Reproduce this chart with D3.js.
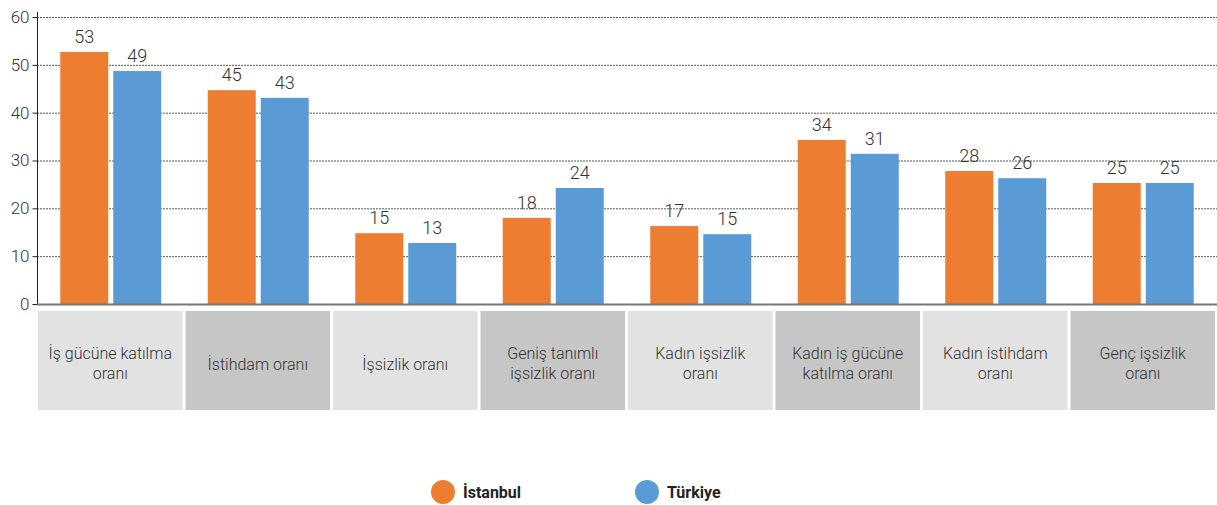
<!DOCTYPE html>
<html><head><meta charset="utf-8">
<script src="https://cdn.jsdelivr.net/npm/d3@7"></script>
<style>body{margin:0;background:#fff}svg{display:block}text{font-family:Roboto,"DejaVu Sans",sans-serif}</style>
</head><body><svg id="c" width="1217" height="505"></svg>
<script>
const categories = [["İş gücüne katılma","oranı"],["İstihdam oranı"],["İşsizlik oranı"],["Geniş tanımlı","işsizlik oranı"],["Kadın işsizlik","oranı"],["Kadın iş gücüne","katılma oranı"],["Kadın istihdam","oranı"],["Genç işsizlik","oranı"]];
const series = ["İstanbul","Türkiye"];
const istanbul = [52.7,44.7,14.8,18.0,16.3,34.3,27.8,25.3];
const turkiye = [48.7,43.1,12.75,24.25,14.6,31.4,26.3,25.3];
const istanbulLabels = [53,45,15,18,17,34,28,25];
const turkiyeLabels = [49,43,13,24,15,31,26,25];
const yTicks = [0,10,20,30,40,50,60];
const colors = ["#ED7D31","#5B9BD5"];

const svg = d3.select("#c");
const pLeft = 37, pRight = 1217, pTop = 17, pBottom = 304;
const x = d3.scaleBand().domain(d3.range(categories.length)).range([pLeft,pRight]);
const y = d3.scaleLinear().domain([0,60]).range([pBottom,pTop]);
const barW = 48, gap = 5;
const pad = (x.bandwidth() - 2*barW - gap)/2;

// gridlines
svg.append("g").selectAll("line").data(yTicks.filter(d=>d>0)).join("line")
  .attr("x1",pLeft).attr("x2",pRight).attr("y1",d=>y(d)+0.5).attr("y2",d=>y(d)+0.5)
  .attr("stroke","#555").attr("stroke-width",1).attr("stroke-dasharray","2,1");

// y axis
const yAxis = d3.axisLeft(y).tickValues(yTicks).tickSize(5).tickPadding(3);
const ga = svg.append("g").attr("transform",`translate(${pLeft+0.5},0)`).call(yAxis);
ga.select(".domain").attr("d",`M0,12V${pBottom}`).attr("stroke","#222");
ga.selectAll(".tick line").attr("stroke","#222");
ga.selectAll(".tick text").attr("font-size",17).attr("font-weight",300).attr("fill","#333").attr("font-family","Roboto, sans-serif");

const vals = [istanbul, turkiye];
const labs = [istanbulLabels, turkiyeLabels];
series.forEach((s,si)=>{
  const g = svg.append("g");
  g.selectAll("rect").data(vals[si]).join("rect")
    .attr("x",(d,i)=>x(i)+pad+si*(barW+gap)).attr("width",barW)
    .attr("y",d=>y(d)).attr("height",d=>pBottom-y(d)).attr("fill",colors[si]);
  g.selectAll("text").data(vals[si]).join("text")
    .attr("x",(d,i)=>x(i)+pad+si*(barW+gap)+barW/2).attr("y",d=>y(d)-9)
    .attr("text-anchor","middle").attr("font-size",18).attr("font-weight",300).attr("fill","#333")
    .text((d,i)=>labs[si][i]);
});

// baseline
svg.append("line").attr("x1",pLeft).attr("x2",pRight).attr("y1",pBottom+0.5).attr("y2",pBottom+0.5)
  .attr("stroke","#777").attr("stroke-width",2);

// category boxes
const cg = svg.append("g").selectAll("g").data(categories).join("g");
cg.append("rect").attr("x",(d,i)=>x(i)+1).attr("width",x.bandwidth()-3)
  .attr("y",311).attr("height",99).attr("fill",(d,i)=>i%2?"#c6c6c6":"#e2e2e2");
cg.each(function(d,i){
  const t = d3.select(this).append("text").attr("text-anchor","middle")
    .attr("font-size",16).attr("font-weight",300).attr("fill","#333");
  const cx = x(i)+x.bandwidth()/2-0.5;
  const startY = d.length===1 ? 370 : 359;
  d.forEach((line,j)=>t.append("tspan").attr("x",cx).attr("y",startY+j*20).text(line));
});

// legend
const lg = svg.append("g");
const lx = [443,647];
series.forEach((s,si)=>{
  lg.append("circle").attr("cx",lx[si]).attr("cy",492).attr("r",12).attr("fill",colors[si]);
  lg.append("text").attr("x",lx[si]+20).attr("y",498).attr("font-size",16).attr("font-weight","bold")
    .attr("fill","#222").text(s);
});
</script></body></html>
